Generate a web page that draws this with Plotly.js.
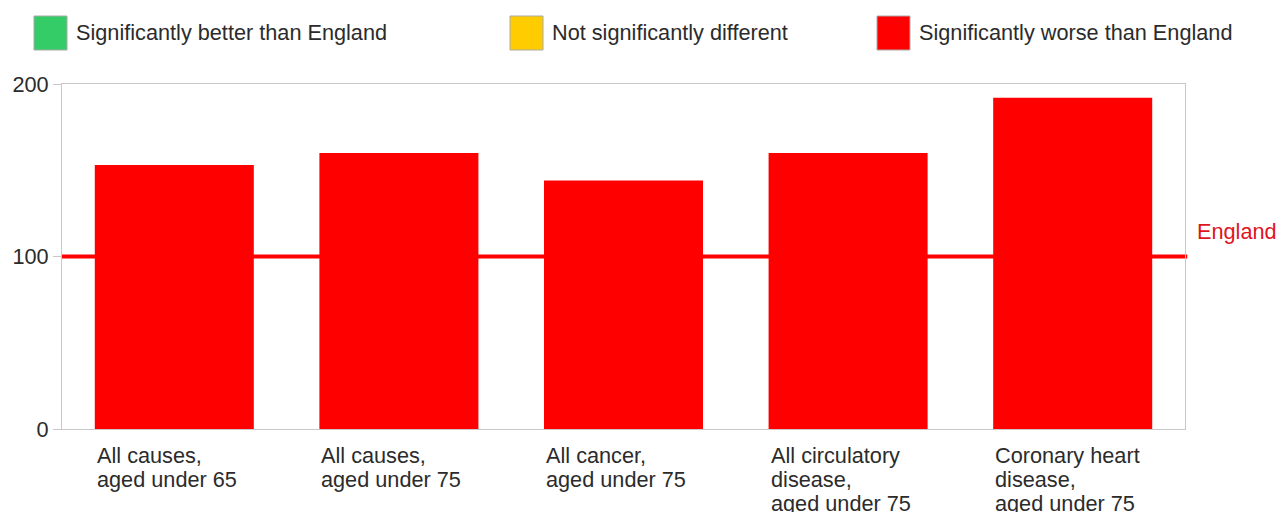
<!DOCTYPE html>
<html>
<head>
<meta charset="utf-8">
<script src="https://cdn.plot.ly/plotly-3.0.1.min.js"></script>
<style>html,body{margin:0;padding:0;background:#fff;}#chart{width:1279px;height:512px;}</style>
</head>
<body>
<div id="chart"></div>
<script>
const categories = ["All causes,|aged under 65", "All causes,|aged under 75", "All cancer,|aged under 75", "All circulatory|disease,|aged under 75", "Coronary heart|disease,|aged under 75"];
const values = [153, 160, 144, 160, 192];
const barColors = ["#ff0000", "#ff0000", "#ff0000", "#ff0000", "#ff0000"];
const englandValue = 100;
const legendLabels = ["Significantly better than England", "Not significantly different", "Significantly worse than England"];
const legendColors = ["#33cc66", "#ffcc00", "#ff0000"];
const yTicks = [0, 100, 200];

const FONT = "Liberation Sans, Arial, sans-serif";
const FS = 21.7;
const TXT = "#2b2b2b";
const idx = categories.map((c, i) => i);
const BW = 0.708;

const traces = [{
  type: "bar",
  x: idx,
  y: values,
  marker: {color: barColors, line: {width: 0}},
  width: BW,
  hoverinfo: "skip",
  showlegend: false
}];

const annotations = [];
categories.forEach((c, i) => {
  c.split("|").forEach((line, j) => {
    annotations.push({
      x: i - BW / 2, xref: "x", xanchor: "left",
      y: 0, yref: "y", yanchor: "middle", yshift: -26 - 24 * j,
      text: line, showarrow: false, align: "left",
      font: {family: FONT, size: FS, color: TXT}
    });
  });
});
annotations.push({
  x: 1, xref: "paper", xanchor: "left", xshift: 10,
  y: englandValue, yref: "y", yanchor: "middle", yshift: 25,
  text: "England", showarrow: false,
  font: {family: FONT, size: FS, color: "#e0141e"}
});

const shapes = [{
  type: "line", xref: "paper", x0: 0, x1: 1.002, yref: "y", y0: englandValue, y1: englandValue,
  line: {color: "#ff0000", width: 4}, layer: "below"
}];

const ML = 62, MR = 94, MT = 84, MB = 83, W = 1279, H = 512;
const layout = {
  width: W, height: H,
  margin: {l: ML, r: MR, t: MT, b: MB},
  paper_bgcolor: "#fff", plot_bgcolor: "#fff",
  font: {family: FONT, size: FS, color: TXT},
  xaxis: {
    range: [-0.5, 4.5], showticklabels: false, ticks: "",
    showgrid: false, zeroline: false,
    showline: true, linecolor: "#c8c8c8", linewidth: 1, mirror: true, fixedrange: true
  },
  yaxis: {
    range: [0, 200], tickvals: yTicks, ticktext: yTicks.map(String),
    ticks: "outside", ticklen: 8, tickcolor: "#c8c8c8",
    showgrid: false, zeroline: false,
    showline: true, linecolor: "#c8c8c8", linewidth: 1, mirror: true,
    tickfont: {family: FONT, size: FS, color: TXT}, fixedrange: true
  },
  showlegend: false,
  shapes: shapes,
  annotations: annotations
};

// legend drawn in pixel positions via paper coordinates
const plotH = H - MT - MB, plotW = W - ML - MR;
const px = x => (x - ML) / plotW;
const py = y => (H - MB - y) / plotH;
const legX = [34, 510, 877];
legendLabels.forEach((lab, i) => {
  layout.shapes.push({type: "rect", xref: "paper", yref: "paper",
    x0: px(legX[i]), x1: px(legX[i] + 33), y0: py(50), y1: py(16),
    line: {color: "#aaaaaa", width: 1}, fillcolor: legendColors[i]});
  layout.annotations.push({xref: "paper", yref: "paper",
    x: px(legX[i] + 40), y: py(33), xanchor: "left", yanchor: "middle",
    text: lab, showarrow: false,
    font: {family: FONT, size: FS, color: TXT}});
});

Plotly.newPlot("chart", traces, layout, {displayModeBar: false, staticPlot: true});
</script>
</body>
</html>
